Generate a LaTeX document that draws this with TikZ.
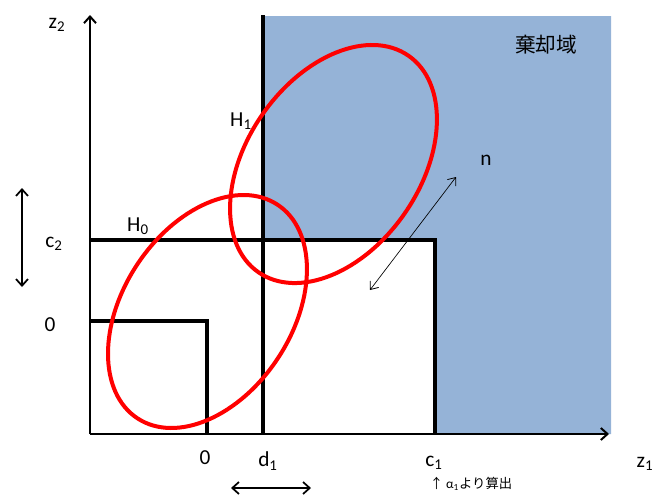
\documentclass[tikz,border=0pt]{standalone}
\usepackage{fontspec}
\setmainfont{Carlito}
\newfontfamily\jp{Noto Sans CJK JP}
\usetikzlibrary{arrows.meta}
\definecolor{rejblue}{HTML}{95B3D7}
\definecolor{ellred}{HTML}{FF0000}
\tikzset{
  axisline/.style={line width=1.8pt, -{Straight Barb[length=5pt,width=9pt,line width=1.5pt]}},
  bdry/.style={line width=2.5pt},
  dbl/.style={line width=1.4pt, {Straight Barb[length=5pt,width=9pt,line width=1.3pt]}-{Straight Barb[length=5pt,width=9pt,line width=1.3pt]}},
  thindbl/.style={line width=0.5pt, {Straight Barb[length=5pt,width=8pt,line width=0.6pt]}-{Straight Barb[length=5pt,width=8pt,line width=0.6pt]}},
  hyp/.style={draw=ellred, line width=3pt},
  lbl/.style={inner sep=0pt, font=\fontsize{16}{19}\selectfont},
}
\begin{document}
\begin{tikzpicture}[x=0.75pt, y=-0.75pt]
\useasboundingbox (0,0) rectangle (657,496);
% rejection region
\fill[rejblue] (263,16) -- (611,16) -- (611,434) -- (435,434) -- (435,240) -- (263,240) -- cycle;
% coordinates
\coordinate (O) at (90,434);
\coordinate (ytip) at (90,15);
\coordinate (xtip) at (609,434);
\coordinate (d1top) at (263,15);
\coordinate (d1bot) at (263,434);
\coordinate (c2l) at (90,240);
\coordinate (c2r) at (435,240);
\coordinate (c1b) at (435,434);
\coordinate (zl) at (90,321);
\coordinate (zr) at (207,321);
\coordinate (zb) at (207,434);
\coordinate (va) at (22,188);
\coordinate (vb) at (22,287);
\coordinate (ha) at (231,488);
\coordinate (hb) at (311,488);
\coordinate (na) at (370,290);
\coordinate (nb) at (456,177);
\coordinate (e0) at (207.5,311.5);
\coordinate (e1) at (333.5,164);
% lines
\draw[bdry] (d1top) -- (d1bot);
\draw[bdry] (c2l) -- (c2r) -- (c1b);
\draw[bdry] (zl) -- (zr) -- (zb);
\draw[axisline] (O) -- (ytip);
\draw[axisline] (O) -- (xtip);
% arrows
\draw[dbl] (va) -- (vb);
\draw[dbl] (ha) -- (hb);
\draw[thindbl] (na) -- (nb);
% ellipses
\draw[hyp, rotate around={56.8:(e0)}] (e0) ellipse [x radius=95.8pt, y radius=63.4pt];
\draw[hyp, rotate around={55.3:(e1)}] (e1) ellipse [x radius=98.8pt, y radius=65pt];
% labels
\node[lbl] (lz2) at (57,25) {z\textsubscript{2}};
\node[lbl] (lz1) at (645,464) {z\textsubscript{1}};
\node[lbl] (lc2) at (54,244) {c\textsubscript{2}};
\node[lbl] (l0a) at (50,325) {0};
\node[lbl] (lH0) at (138,226) {H\textsubscript{0}};
\node[lbl] (lH1) at (241,121) {H\textsubscript{1}};
\node[lbl] (l0b) at (205,458) {0};
\node[lbl] (ld1) at (268,461) {d\textsubscript{1}};
\node[lbl] (lc1) at (434,463) {c\textsubscript{1}};
\node[lbl] (ln) at (486,160) {n};
\node[inner sep=0pt, font=\jp\fontsize{15.5}{18}\selectfont] (lrej) at (546,45) {棄却域};
\node[inner sep=0pt, font=\fontsize{10}{12}\selectfont] (lnote) at (471,484) {{\jp ↑} α\textsubscript{1}{\jp より算出}};
\end{tikzpicture}
\end{document}
